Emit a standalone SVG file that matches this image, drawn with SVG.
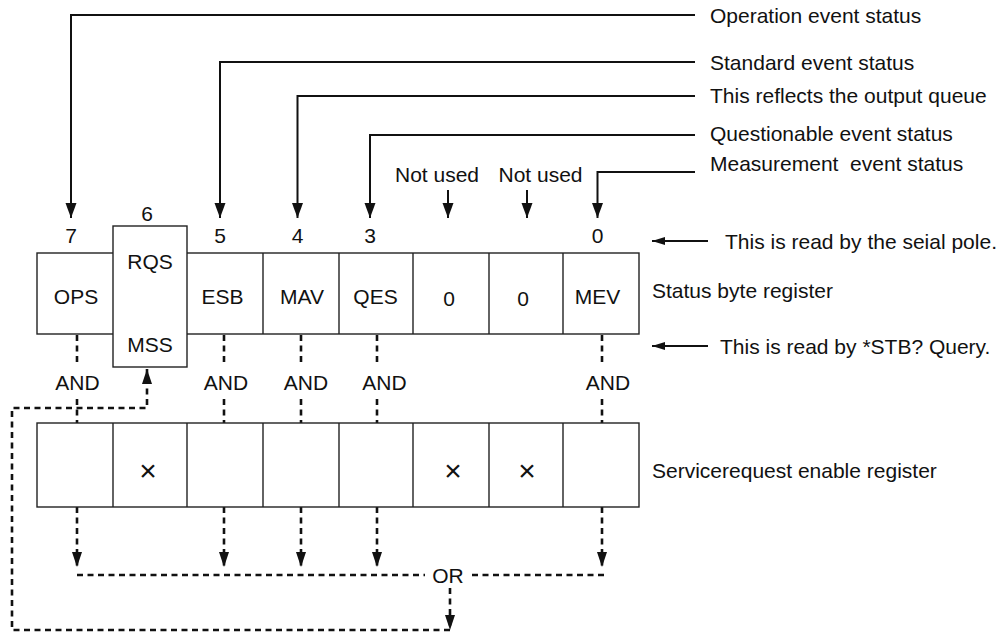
<svg xmlns="http://www.w3.org/2000/svg" width="1006" height="635" viewBox="0 0 1006 635">
<style>
text{font-family:"Liberation Sans",Arial,sans-serif;font-size:21px;fill:#111}
.c{text-anchor:middle}
.x{font-size:30px}
.ln{fill:none;stroke:#111;stroke-width:2}
.dl{fill:none;stroke:#111;stroke-width:2.6;stroke-dasharray:6 4.5}
.bx{fill:#fff;stroke:#222;stroke-width:1.4}
</style>
<defs>
<marker id="ah" markerUnits="userSpaceOnUse" markerWidth="16" markerHeight="12" refX="15" refY="6" orient="auto">
<path d="M0,0.5 L15,6 L0,11.5 Z" fill="#111"/>
</marker>
<marker id="ahd" markerUnits="userSpaceOnUse" markerWidth="16" markerHeight="12" refX="15" refY="6" orient="auto">
<path d="M0,1 L15,6 L0,11 Z" fill="#111"/>
</marker>
<marker id="ahs" markerUnits="userSpaceOnUse" markerWidth="14" markerHeight="10" refX="13" refY="5" orient="auto">
<path d="M0,1 L13,5 L0,9 Z" fill="#111"/>
</marker>
</defs>

<g id="connectors">
<path class="ln" d="M695,15 H71 V218" marker-end="url(#ah)"/>
<path class="ln" d="M695,62 H220 V218" marker-end="url(#ah)"/>
<path class="ln" d="M695,96 H297.5 V218" marker-end="url(#ah)"/>
<path class="ln" d="M695,135 H370 V218" marker-end="url(#ah)"/>
<path class="ln" d="M695,172 H597.5 V218" marker-end="url(#ah)"/>
<path class="ln" d="M448,190 V218" marker-end="url(#ah)"/>
<path class="ln" d="M527,190 V218" marker-end="url(#ah)"/>
<path class="ln" d="M708,241 H652" marker-end="url(#ahs)"/>
<path class="ln" d="M708,346 H652" marker-end="url(#ahs)"/>

<path class="dl" d="M77,335 V366"/>
<path class="dl" d="M77,399 V423"/>
<path class="dl" d="M224,335 V366"/>
<path class="dl" d="M224,399 V423"/>
<path class="dl" d="M301,335 V366"/>
<path class="dl" d="M301,399 V423"/>
<path class="dl" d="M377,335 V366"/>
<path class="dl" d="M377,399 V423"/>
<path class="dl" d="M602,335 V366"/>
<path class="dl" d="M602,399 V423"/>

<path class="dl" d="M77,507 V567" marker-end="url(#ahd)"/>
<path class="dl" d="M224,507 V567" marker-end="url(#ahd)"/>
<path class="dl" d="M301,507 V567" marker-end="url(#ahd)"/>
<path class="dl" d="M377,507 V567" marker-end="url(#ahd)"/>
<path class="dl" d="M602,507 V567" marker-end="url(#ahd)"/>

<path class="dl" d="M77,575 H425"/>
<path class="dl" d="M472,575 H605"/>
<path class="dl" d="M450,588 V630" marker-end="url(#ahd)"/>
<path class="dl" d="M450,630 H12 V408 H147 V369" marker-end="url(#ahd)"/>
</g>

<g id="status-byte-register">
<rect class="bx" x="37" y="253" width="602" height="81"/>
<line class="bx" x1="263" y1="253" x2="263" y2="334"/>
<line class="bx" x1="339" y1="253" x2="339" y2="334"/>
<line class="bx" x1="413" y1="253" x2="413" y2="334"/>
<line class="bx" x1="489" y1="253" x2="489" y2="334"/>
<line class="bx" x1="563" y1="253" x2="563" y2="334"/>
<rect class="bx" x="113" y="226" width="74" height="141"/>
<text class="c" x="76" y="304">OPS</text>
<text class="c" x="150" y="268.5">RQS</text>
<text class="c" x="150" y="351.5">MSS</text>
<text class="c" x="222.5" y="304">ESB</text>
<text class="c" x="302" y="304">MAV</text>
<text class="c" x="375.5" y="304">QES</text>
<text class="c" x="449" y="305.5">0</text>
<text class="c" x="523" y="305.5">0</text>
<text class="c" x="597.5" y="304">MEV</text>
<text x="652" y="298">Status byte register</text>
</g>

<g id="bit-numbers">
<text class="c" x="71" y="242.5">7</text>
<text class="c" x="147" y="220.5">6</text>
<text class="c" x="220" y="242.5">5</text>
<text class="c" x="297.5" y="242.5">4</text>
<text class="c" x="370" y="242.5">3</text>
<text class="c" x="597.5" y="242.5">0</text>
</g>

<g id="top-labels">
<text x="710" y="23">Operation event status</text>
<text x="710" y="69.5">Standard event status</text>
<text x="710" y="103">This reflects the output queue</text>
<text x="710" y="141">Questionable event status</text>
<text x="710" y="171" xml:space="preserve">Measurement  event status</text>
<text class="c" x="437" y="182">Not used</text>
<text class="c" x="540.5" y="182">Not used</text>
<text x="725" y="249">This is read by the seial pole.</text>
<text x="720" y="354">This is read by *STB? Query.</text>
</g>

<g id="and-labels">
<text class="c" x="77.5" y="390">AND</text>
<text class="c" x="226" y="390">AND</text>
<text class="c" x="306" y="390">AND</text>
<text class="c" x="384.5" y="390">AND</text>
<text class="c" x="608" y="390">AND</text>
</g>

<g id="service-request-enable-register">
<rect class="bx" x="37" y="423" width="602" height="84"/>
<line class="bx" x1="113" y1="423" x2="113" y2="507"/>
<line class="bx" x1="187" y1="423" x2="187" y2="507"/>
<line class="bx" x1="263" y1="423" x2="263" y2="507"/>
<line class="bx" x1="339" y1="423" x2="339" y2="507"/>
<line class="bx" x1="413" y1="423" x2="413" y2="507"/>
<line class="bx" x1="489" y1="423" x2="489" y2="507"/>
<line class="bx" x1="563" y1="423" x2="563" y2="507"/>
<text class="c x" x="148" y="481">×</text>
<text class="c x" x="453" y="481">×</text>
<text class="c x" x="527" y="481">×</text>
<text x="652" y="478">Servicerequest enable register</text>
</g>

<g id="or-gate">
<text class="c" x="448" y="582.5">OR</text>
</g>
</svg>
